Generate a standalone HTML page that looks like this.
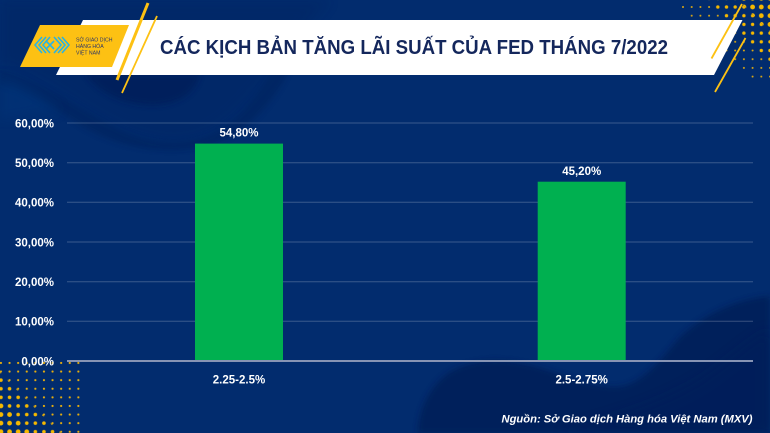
<!DOCTYPE html>
<html>
<head>
<meta charset="utf-8">
<style>
  html, body { margin: 0; padding: 0; background: #022c6e; }
  svg { display: block; }
  text { font-family: "Liberation Sans", "DejaVu Sans", sans-serif; }
</style>
</head>
<body>
<svg width="770" height="433" viewBox="0 0 770 433" xmlns="http://www.w3.org/2000/svg">
  <defs>
    <pattern id="dotA" patternUnits="userSpaceOnUse" x="678.65" y="2.65" width="8.7" height="8.7">
      <circle cx="4.35" cy="4.35" r="2.4" fill="#f5b800"/>
    </pattern>
    <pattern id="dotB" patternUnits="userSpaceOnUse" x="678.65" y="2.65" width="8.7" height="8.7">
      <circle cx="4.35" cy="4.35" r="1.7" fill="#f5b800"/>
    </pattern>
    <pattern id="dotC" patternUnits="userSpaceOnUse" x="678.65" y="2.65" width="8.7" height="8.7">
      <circle cx="4.35" cy="4.35" r="1.0" fill="#e0aa10"/>
    </pattern>
    <pattern id="dotD" patternUnits="userSpaceOnUse" x="-3.35" y="358.65" width="8.6" height="8.6">
      <circle cx="4.3" cy="4.3" r="2.4" fill="#f5b800"/>
    </pattern>
    <pattern id="dotE" patternUnits="userSpaceOnUse" x="-3.35" y="358.65" width="8.6" height="8.6">
      <circle cx="4.3" cy="4.3" r="1.8" fill="#f5b800"/>
    </pattern>
    <pattern id="dotF" patternUnits="userSpaceOnUse" x="-3.35" y="358.65" width="8.6" height="8.6">
      <circle cx="4.3" cy="4.3" r="1.1" fill="#e8ae0c"/>
    </pattern>
    <filter id="blur6" x="-20%" y="-20%" width="140%" height="140%">
      <feGaussianBlur stdDeviation="6"/>
    </filter>
    <filter id="blur3" x="-20%" y="-20%" width="140%" height="140%">
      <feGaussianBlur stdDeviation="3"/>
    </filter>
  </defs>

  <!-- background -->
  <rect x="0" y="0" width="770" height="433" fill="#022c6e"/>

  <!-- top-left subtle waves -->
  <path d="M0,0 L330,0 C300,30 280,70 250,100 C220,135 190,145 160,140 C110,132 70,95 30,75 C18,70 8,66 0,64 Z" fill="#01245f" opacity="0.35" filter="url(#blur6)"/>
  <path d="M0,70 C40,80 80,110 120,130 C150,145 190,148 220,130 C245,115 260,90 280,60 L300,40 C290,80 260,130 210,145 C170,155 120,150 80,125 C50,105 25,90 0,85 Z" fill="#001b52" opacity="0.35" filter="url(#blur3)"/>
  <path d="M85,74 L200,74 C195,95 175,106 150,105 C120,104 100,92 85,74 Z" fill="#011f58" opacity="0.7" filter="url(#blur3)"/>
  <path d="M0,75 C20,80 40,95 60,110 L0,120 Z" fill="#06357a" opacity="0.5" filter="url(#blur6)"/>

  <!-- bottom-right dark wave -->
  <path d="M418,433 C418,410 430,385 450,372 C470,360 495,358 520,363 C550,368 580,385 613,387 C640,388 660,360 680,337 C700,318 730,300 770,296 L770,433 Z" fill="#001c55" opacity="0.75" filter="url(#blur3)"/>
  <path d="M560,433 C600,420 650,410 700,380 C730,360 750,340 770,330 L770,433 Z" fill="#021f5a" opacity="0.5" filter="url(#blur6)"/>

  <!-- dots top-right -->
  <polygon points="738,0 770,0 770,32" fill="url(#dotA)"/>
  <polygon points="706,0 738,0 770,32 770,64" fill="url(#dotB)"/>
  <polygon points="674,0 706,0 770,64 770,82 752,82" fill="url(#dotC)"/>

  <!-- dots bottom-left -->
  <polygon points="0,400 0,433 33,433" fill="url(#dotD)"/>
  <polygon points="0,372 0,400 33,433 61,433" fill="url(#dotE)"/>
  <polygon points="0,358 0,372 61,433 84,433 84,360" fill="url(#dotF)"/>

  <!-- white banner -->
  <polygon points="83,20 742.5,20 714,75 56,75" fill="#ffffff"/>

  <!-- yellow logo box -->
  <polygon points="40,25 129,25 112,67 20,67" fill="#fdc113"/>

  <!-- yellow accent lines left -->
  <line x1="148" y1="3" x2="117" y2="80" stroke="#fdc113" stroke-width="3"/>
  <line x1="157" y1="16" x2="122" y2="93" stroke="#fdc113" stroke-width="1.8"/>
  <!-- yellow accent lines right -->
  <line x1="742" y1="4" x2="711.5" y2="58.5" stroke="#fdc113" stroke-width="1.8"/>
  <line x1="745.5" y1="38" x2="715" y2="92" stroke="#fdc113" stroke-width="1.8"/>

  <!-- logo icon -->
  <g fill="none" stroke="#2ab3e3" stroke-width="1.6" stroke-linejoin="miter">
    <polyline points="42,37 35,45 42,53"/>
    <polyline points="46,37 39,45 46,53"/>
    <polyline points="50,37 43,45 50,53"/>
    <polyline points="46,41 50,45 46,49"/>
    <polyline points="54,37 61,45 54,53"/>
    <polyline points="58,37 65,45 58,53"/>
    <polyline points="62,37 69,45 62,53"/>
    <polyline points="54,41 50,45 54,49"/>
  </g>
  <text x="76" y="41.5" font-size="5.2" fill="#2b3568" font-family="Liberation Serif, serif">SỞ GIAO DỊCH</text>
  <text x="76" y="48" font-size="5.2" fill="#2b3568" font-family="Liberation Serif, serif">HÀNG HÓA</text>
  <text x="76" y="54.5" font-size="5.2" fill="#2b3568" font-family="Liberation Serif, serif">VIỆT NAM</text>

  <!-- title -->
  <text x="160" y="54" font-size="20" font-weight="bold" fill="#14275c" textLength="508" lengthAdjust="spacingAndGlyphs">CÁC KỊCH BẢN TĂNG LÃI SUẤT CỦA FED THÁNG 7/2022</text>

  <!-- gridlines -->
  <g stroke="#ffffff" stroke-opacity="0.22" stroke-width="1">
    <line x1="67" y1="123" x2="753" y2="123"/>
    <line x1="67" y1="162.7" x2="753" y2="162.7"/>
    <line x1="67" y1="202.3" x2="753" y2="202.3"/>
    <line x1="67" y1="242" x2="753" y2="242"/>
    <line x1="67" y1="281.7" x2="753" y2="281.7"/>
    <line x1="67" y1="321.3" x2="753" y2="321.3"/>
  </g>

  <!-- bars -->
  <rect x="195" y="143.6" width="88" height="217.4" fill="#00b050"/>
  <rect x="537.7" y="181.7" width="88" height="179.3" fill="#00b050"/>

  <!-- zero axis -->
  <line x1="67" y1="361" x2="753" y2="361" stroke="#8794b4" stroke-width="2"/>

  <!-- y labels -->
  <g font-size="11.5" font-weight="bold" fill="#ffffff" text-anchor="end">
    <text x="54" y="127.3">60,00%</text>
    <text x="54" y="167">50,00%</text>
    <text x="54" y="206.6">40,00%</text>
    <text x="54" y="246.3">30,00%</text>
    <text x="54" y="286">20,00%</text>
    <text x="54" y="325.6">10,00%</text>
    <text x="54" y="365.3">0,00%</text>
  </g>

  <!-- value labels -->
  <g font-size="11.5" font-weight="bold" fill="#ffffff" text-anchor="middle">
    <text x="239" y="136.7">54,80%</text>
    <text x="581.7" y="174.8">45,20%</text>
    <text x="239" y="383.3">2.25-2.5%</text>
    <text x="581.7" y="383.3">2.5-2.75%</text>
  </g>

  <!-- source -->
  <text x="752.5" y="422.3" font-size="11" font-weight="bold" font-style="italic" fill="#ffffff" text-anchor="end" textLength="251" lengthAdjust="spacingAndGlyphs">Nguồn: Sở Giao dịch Hàng hóa Việt Nam (MXV)</text>
</svg>
</body>
</html>
